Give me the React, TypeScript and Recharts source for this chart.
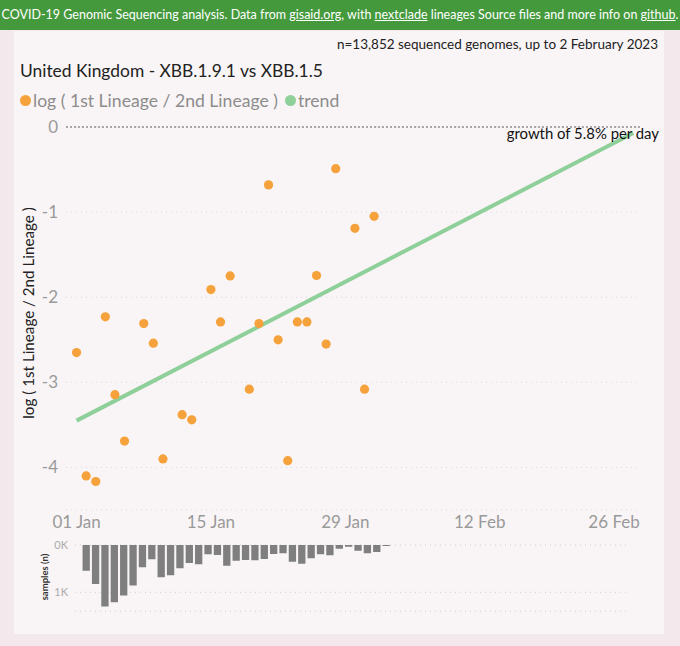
import React from "react";
import {
  ComposedChart,
  Scatter,
  Line,
  XAxis,
  YAxis,
  CartesianGrid,
  ReferenceLine,
  BarChart,
  Bar,
} from "recharts";

// ---- data ----
const pointDays = [0, 1, 2, 3, 4, 5, 7, 8, 9, 11, 12, 14, 15, 16, 18, 19, 20, 21, 22, 23, 24, 25, 26, 27, 29, 30, 31];
const pointValues = [
  -2.65, -4.1, -4.165, -2.23, -3.145, -3.69, -2.31, -2.54, -3.9, -3.38, -3.44, -1.91, -2.29, -1.75, -3.08, -2.31,
  -0.68, -2.5, -3.92, -2.29, -2.29, -1.745, -2.55, -0.49, -1.19, -3.08, -1.05,
];
const trendDays = [0, 58];
const trendValues = [-3.45, -0.07];
const sampleCounts = [
  542, 824, 1303, 1211, 1070, 859, 472, 303, 683, 641, 493, 380, 408, 197, 211, 437, 331, 317, 324, 296, 190, 176,
  352, 394, 282, 197, 218, 77, 35, 120, 176, 148, 21,
];
const xTickDays = [0, 14, 28, 42, 56];
const xTickLabels = ["01 Jan", "15 Jan", "29 Jan", "12 Feb", "26 Feb"];
const yTicks = [0, -1, -2, -3, -4];
const sampleTicks = [0, 1000];

const pointData = pointDays.map((d, i) => ({ day: d, v: pointValues[i] }));
const trendData = trendDays.map((d, i) => ({ day: d, t: trendValues[i] }));
const sampleData = sampleCounts.map((n, i) => ({ day: i, n }));

const FONT = "'Segoe UI', Lato, 'Open Sans', sans-serif";
const ORANGE = "#F6A23C";
const GREEN = "#8fcf99";

const Dot = (props: any) => <circle cx={props.cx} cy={props.cy} r={4.6} fill={ORANGE} />;

export default function App() {
  return (
    <div
      style={{
        position: "absolute",
        left: 0,
        top: 0,
        width: 680,
        height: 646,
        background: "#f3e8ec",
        overflow: "hidden",
        fontFamily: FONT,
      }}
    >
      {/* banner */}
      <div
        style={{
          position: "absolute",
          left: 0,
          top: 0,
          width: 680,
          height: 30,
          background: "#45993d",
          color: "#fff",
          fontSize: 12.5,
          lineHeight: "30px",
          textAlign: "center",
          whiteSpace: "nowrap",
        }}
      >
        COVID-19 Genomic Sequencing analysis. Data from <u>gisaid.org</u>, with <u>nextclade</u> lineages Source files
        and more info on <u>github</u>.
      </div>
      {/* panel */}
      <div
        style={{
          position: "absolute",
          left: 14,
          top: 31,
          width: 650,
          height: 603,
          background: "#f9f5f6",
        }}
      />
      <div
        style={{
          position: "absolute",
          right: 22,
          top: 36,
          fontSize: 13.5,
          color: "#222",
          whiteSpace: "nowrap",
        }}
      >
        n=13,852 sequenced genomes, up to 2 February 2023
      </div>
      <div
        style={{
          position: "absolute",
          left: 20,
          top: 60,
          fontSize: 17.4,
          color: "#222",
          whiteSpace: "nowrap",
        }}
      >
        United Kingdom - XBB.1.9.1 vs XBB.1.5
      </div>
      {/* legend */}
      <div
        style={{
          position: "absolute",
          left: 20,
          top: 88,
          fontSize: 17.6,
          color: "#8c8c8c",
          whiteSpace: "nowrap",
          display: "flex",
          alignItems: "center",
          height: 24,
        }}
      >
        <span style={{ width: 11, height: 11, borderRadius: 6, background: ORANGE, display: "inline-block", marginRight: 2 }} />
        <span>log ( 1st Lineage / 2nd Lineage )</span>
        <span
          style={{ width: 11, height: 11, borderRadius: 6, background: GREEN, display: "inline-block", marginLeft: 7, marginRight: 2 }}
        />
        <span>trend</span>
      </div>
      {/* y label main */}
      <div
        style={{
          position: "absolute",
          left: 28,
          top: 313,
          transform: "translate(-50%, -50%) rotate(-90deg)",
          fontSize: 15.2,
          color: "#222",
          whiteSpace: "nowrap",
        }}
      >
        log ( 1st Lineage / 2nd Lineage )
      </div>

      {/* main chart */}
      <div style={{ position: "absolute", left: 0, top: 0 }}>
        <ComposedChart width={680} height={545} margin={{ top: 127, right: 40, left: 0, bottom: 5 }}>
          <CartesianGrid vertical={false} stroke="#d9d6d7" strokeDasharray="1 4" />
          <XAxis
            type="number"
            dataKey="day"
            domain={[-1.1, 58.7]}
            ticks={xTickDays}
            tickFormatter={(d: number) => xTickLabels[xTickDays.indexOf(d)]}
            axisLine={false}
            tickLine={false}
            tickSize={0}
            tickMargin={6}
            height={30}
            tick={{ fill: "#9a9a9a", fontSize: 17, fontFamily: FONT }}
            allowDataOverflow
          />
          <YAxis
            type="number"
            domain={[-4.5, 0]}
            ticks={yTicks}
            axisLine={false}
            tickLine={false}
            tickSize={0}
            tickMargin={8}
            width={66}
            tick={{ fill: "#9a9a9a", fontSize: 17, fontFamily: FONT }}
            allowDataOverflow
          />
          <ReferenceLine y={0} stroke="#a8a8a8" strokeWidth={2} strokeDasharray="2 2" />
          <Line
            data={trendData}
            dataKey="t"
            stroke={GREEN}
            strokeWidth={4}
            dot={false}
            activeDot={false}
            isAnimationActive={false}
            legendType="none"
          />
          <Scatter data={pointData} dataKey="v" shape={Dot} isAnimationActive={false} />
        </ComposedChart>
      </div>
      <div
        style={{
          position: "absolute",
          right: 21,
          top: 124,
          fontSize: 14.9,
          color: "#111",
          whiteSpace: "nowrap",
        }}
      >
        growth of 5.8% per day
      </div>

      {/* samples bar chart */}
      <div
        style={{
          position: "absolute",
          left: 44,
          top: 577,
          transform: "translate(-50%, -50%) rotate(-90deg)",
          fontSize: 9.5,
          fontWeight: 700,
          color: "#333",
          whiteSpace: "nowrap",
        }}
      >
        samples (n)
      </div>
      <div style={{ position: "absolute", left: 0, top: 535 }}>
        <BarChart width={680} height={80} data={sampleData} margin={{ top: 10, right: 52, left: 0, bottom: 3.8 }}>
          <CartesianGrid vertical={false} stroke="#cfcccd" strokeDasharray="1 4" />
          <XAxis type="number" dataKey="day" domain={[-1.2, 57.8]} hide allowDataOverflow />
          <YAxis
            type="number"
            reversed
            domain={[0, 1400]}
            ticks={sampleTicks}
            tickFormatter={(v: number) => `${v / 1000}K`}
            axisLine={false}
            tickLine={false}
            tickSize={0}
            tickMargin={7}
            width={75}
            tick={{ fill: "#ababab", fontSize: 11, fontFamily: FONT }}
            allowDataOverflow
          />
          <Bar dataKey="n" fill="#7f7f7f" barSize={7.3} isAnimationActive={false} />
        </BarChart>
      </div>
    </div>
  );
}
